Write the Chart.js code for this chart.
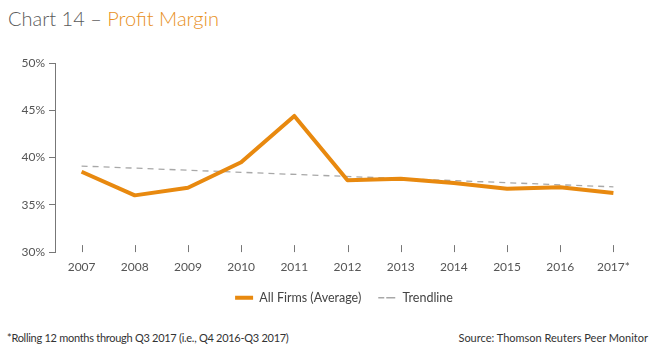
<!DOCTYPE html>
<html><head><meta charset="utf-8">
<script src="https://cdn.jsdelivr.net/npm/chart.js@4/dist/chart.umd.min.js"></script>
<style>
html,body{margin:0;padding:0;background:#fff;width:661px;height:356px;overflow:hidden;font-family:Lato,"Open Sans",sans-serif;}
#title{position:absolute;left:8px;top:6px;font-size:20px;font-weight:300;color:#5a5a5a;letter-spacing:0px;white-space:nowrap;}
#title span{color:#E8901C;}
#wrap{position:absolute;left:0;top:0;width:661px;height:314px;}
.foot{position:absolute;top:331px;font-size:11px;color:#333;white-space:nowrap;}
</style></head><body>
<div id="title">Chart 14 – <span>Profit Margin</span></div>
<div id="wrap"><canvas id="c"></canvas></div>
<div class="foot" style="left:7px;letter-spacing:-0.28px">*Rolling 12 months through Q3 2017 (i.e., Q4 2016-Q3 2017)</div>
<div class="foot" style="right:13px;letter-spacing:0px">Source: Thomson Reuters Peer Monitor</div>
<script>
const years = ["2007","2008","2009","2010","2011","2012","2013","2014","2015","2016","2017*"];
const allFirms = [38.5, 36.0, 36.8, 39.5, 44.4, 37.6, 37.75, 37.3, 36.7, 36.85, 36.25];
const trendline = [39.1, null, null, null, null, null, null, null, null, null, 36.9];
const yTicks = [30, 35, 40, 45, 50];

const xTickPlugin = {
  id: 'xTicks',
  afterDraw(chart) {
    const x = chart.scales.x, ctx = chart.ctx, b = chart.chartArea.bottom;
    ctx.save();
    ctx.strokeStyle = '#777'; ctx.lineWidth = 1;
    x.ticks.forEach((t, i) => {
      const px = Math.round(x.getPixelForTick(i)) + 0.5;
      ctx.beginPath(); ctx.moveTo(px, b - 7); ctx.lineTo(px, b); ctx.stroke();
    });
    ctx.restore();
  }
};
const legendShift = {
  id: 'legendShift',
  afterLayout(chart) {
    const l = chart.legend; if (!l) return;
    l.left += 14; l.right += 14;
  }
};

new Chart(document.getElementById('c'), {
  type: 'line',
  data: {
    labels: years,
    datasets: [
      { label: 'All Firms (Average)', data: allFirms, borderColor: '#E8890F', backgroundColor: '#E8890F',
        borderWidth: 4, pointRadius: 0, tension: 0, borderJoinStyle: 'round' },
      { label: 'Trendline', data: trendline, borderColor: '#A8A8A8', backgroundColor: '#A8A8A8',
        borderWidth: 1.3, borderDash: [6, 5], pointRadius: 0, spanGaps: true }
    ]
  },
  options: {
    responsive: true, maintainAspectRatio: false, animation: false,
    layout: { padding: { left: 20, right: 21, top: 63, bottom: 0 } },
    plugins: {
      legend: { position: 'bottom',
        labels: { color: '#444', font: { family: 'Lato', size: 12.5 }, boxWidth: 18, boxHeight: 0, padding: 17,
          usePointStyle: false,
          generateLabels(chart) {
            return chart.data.datasets.map((d, i) => ({
              text: d.label, strokeStyle: d.borderColor, fillStyle: d.borderColor,
              lineWidth: i === 0 ? 4 : 1.3, lineDash: d.borderDash || [], datasetIndex: i, fontColor: '#444'
            }));
          } } },
      tooltip: { enabled: false }
    },
    scales: {
      x: { offset: true, grid: { display: false }, border: { display: false },
        ticks: { color: '#555', font: { family: 'Lato', size: 12 }, padding: 0 } },
      y: { min: 30, max: 50, afterFit(s) { s.width = 35; },
        afterBuildTicks(s) { s.ticks = yTicks.map(v => ({ value: v })); },
        grid: { drawOnChartArea: false, tickLength: 6, color: '#777' },
        border: { display: true, color: '#777' },
        ticks: { color: '#555', font: { family: 'Lato', size: 12 }, padding: 4, callback: v => v + '%' } }
    }
  },
  plugins: [xTickPlugin, legendShift]
});
</script>
</body></html>
